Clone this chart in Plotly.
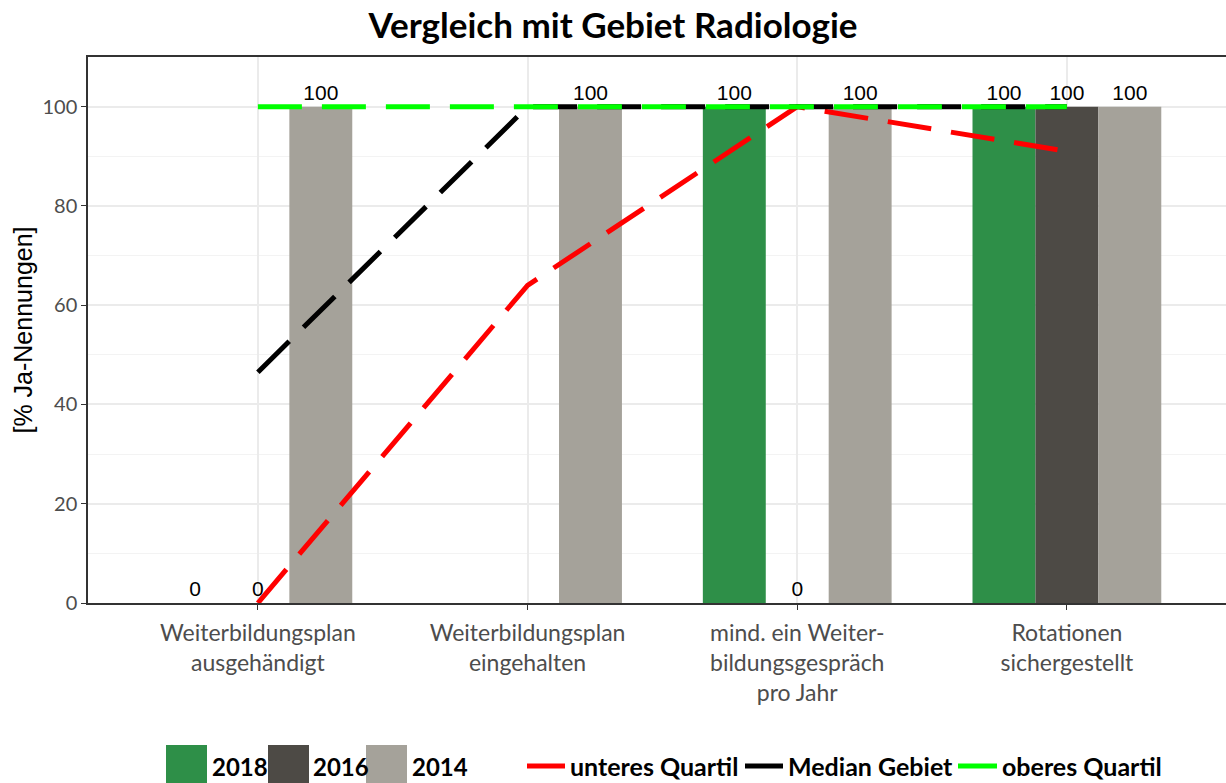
import plotly.graph_objects as go

categories = ["Weiterbildungsplan<br>ausgehändigt", "Weiterbildungsplan<br>eingehalten",
              "mind. ein Weiter-<br>bildungsgespräch<br>pro Jahr", "Rotationen<br>sichergestellt"]
years = ["2018", "2016", "2014"]
v2018 = [0, None, 100, 100]
v2016 = [0, None, 0, 100]
v2014 = [100, 100, 100, 100]
bar_colors = {"2018": "#2E8F48", "2016": "#4D4A45", "2014": "#A5A29A"}

line_names = ["unteres Quartil", "Median Gebiet", "oberes Quartil"]
unteres = [0, 64, 100, 91]
median = [46.5, 100, 100, 100]
oberes = [100, 100, 100, 100]
line_colors = {"unteres Quartil": "#FF0000", "Median Gebiet": "#000000", "oberes Quartil": "#00FF00"}

W, H = 1226, 783
ML, MR, MT, MB = 88, 0, 57, 180
PW, PH = W - ML - MR, H - MT - MB
FONT = "Lato"
ARIAL = "Liberation Sans"


def px(x):
    return (x - ML) / PW


def py(y):
    return (H - MB - y) / PH


fig = go.Figure()
for name, vals in zip(years, [v2018, v2016, v2014]):
    fig.add_trace(go.Bar(
        x=categories, y=vals, name=name, marker_color=bar_colors[name],
        marker_line_width=0,
        texttemplate="%{y}", textposition="outside",
        textfont=dict(size=21, color="black", family=ARIAL),
        cliponaxis=False, showlegend=False,
    ))

for name, vals in zip(line_names, [unteres, median, oberes]):
    fig.add_trace(go.Scatter(
        x=categories, y=vals, name=name, mode="lines",
        line=dict(color=line_colors[name], width=5, dash="44px,20px"),
        showlegend=False,
    ))

# custom legend (ggplot-style large keys)
shapes = []
annotations = []
legend_y0, legend_y1, legend_ym = 745, 783, 766
key_items = [("2018", 166, 207, 210), ("2016", 268, 309, 311), ("2014", 366, 407, 410)]
for name, x0, x1, tx in key_items:
    shapes.append(dict(type="rect", xref="paper", yref="paper",
                       x0=px(x0), x1=px(x1), y0=py(legend_y1), y1=py(legend_y0),
                       fillcolor=bar_colors[name], line_width=0, layer="above"))
    annotations.append(dict(text="<b>%s</b>" % name, xref="paper", yref="paper",
                            x=px(tx), y=py(legend_ym), xanchor="left", yanchor="middle",
                            showarrow=False, font=dict(size=24, color="black", family=FONT)))
line_items = [("unteres Quartil", 527, 565, 568), ("Median Gebiet", 745, 783, 786),
              ("oberes Quartil", 958, 997, 1000)]
for name, x0, x1, tx in line_items:
    shapes.append(dict(type="line", xref="paper", yref="paper",
                       x0=px(x0), x1=px(x1), y0=py(legend_ym), y1=py(legend_ym),
                       line=dict(color=line_colors[name], width=5), layer="above"))
    annotations.append(dict(text="<b>%s</b>" % name, xref="paper", yref="paper",
                            x=px(tx), y=py(legend_ym), xanchor="left", yanchor="middle",
                            showarrow=False, font=dict(size=25, color="black", family=FONT)))

fig.update_layout(
    width=W, height=H,
    margin=dict(l=ML, r=MR, t=MT, b=MB),
    paper_bgcolor="white", plot_bgcolor="white",
    barmode="group", bargap=0.3, bargroupgap=0,
    title=dict(text="<b>Vergleich mit Gebiet Radiologie</b>", x=0.5, xanchor="center",
               y=1 - 26 / H, yanchor="middle",
               font=dict(size=35, family=FONT, color="black")),
    font=dict(family=FONT),
    showlegend=False,
    shapes=shapes,
    annotations=annotations,
)
fig.update_xaxes(
    type="category", range=[-0.63, 3.59], automargin=False,
    showgrid=True, gridcolor="#EBEBEB", gridwidth=1.5,
    showline=True, linecolor="#333333", linewidth=1.5, mirror=True,
    ticks="outside", ticklen=5, tickcolor="#333333", ticklabelstandoff=4,
    tickfont=dict(size=23, color="#4D4D4D", family=FONT),
)
fig.update_yaxes(
    range=[0, 110], tickvals=[0, 20, 40, 60, 80, 100], automargin=False,
    showgrid=True, gridcolor="#EBEBEB", gridwidth=1.5,
    minor=dict(tickvals=[10, 30, 50, 70, 90, 110], showgrid=True, gridcolor="#F3F3F3", gridwidth=1),
    showline=True, linecolor="#333333", linewidth=1.5, mirror=True,
    ticks="outside", ticklen=5, tickcolor="#333333",
    tickfont=dict(size=20, color="#4D4D4D", family=FONT),
    title=dict(text="[% Ja-Nennungen]", font=dict(size=25, color="black", family=ARIAL), standoff=3),
    zeroline=False,
)
fig.write_html("out.html", config={"displayModeBar": False},
               post_script="document.body.style.margin='0';")
